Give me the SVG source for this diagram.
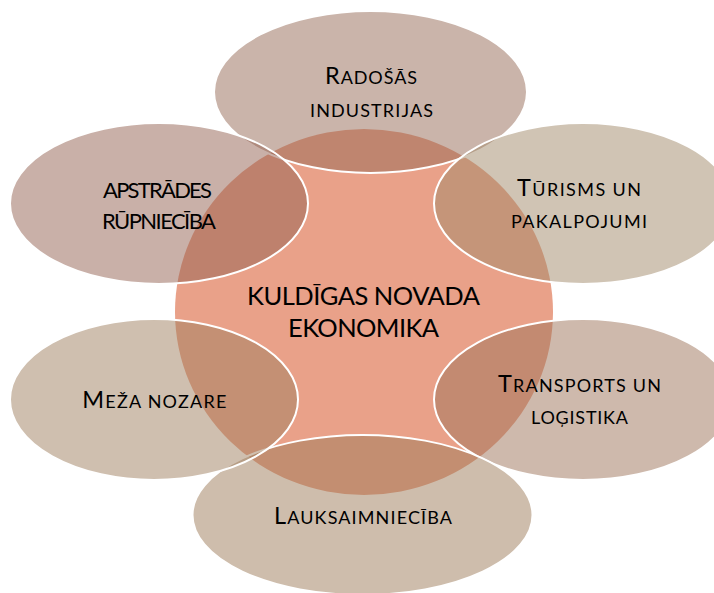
<svg xmlns="http://www.w3.org/2000/svg" width="714" height="593" viewBox="0 0 714 593">
<style>
.bg{fill:#ffffff}
.center{fill:#E9A189}
.petal{fill-opacity:0.5;stroke:#ffffff;stroke-width:2}
.lbl{font-family:"Lato","Open Sans","Liberation Sans",sans-serif;fill:#000000}
.big{font-size:23.5px}
.sm{font-size:18px}
.caps{font-size:22px}
.ctr{font-size:25.5px}
</style>
<rect class="bg" x="0" y="0" width="714" height="593"/>
<g id="center">
<ellipse class="center" cx="364" cy="312" rx="189" ry="183"/>
</g>
<g id="radosas">
<ellipse class="petal" style="fill:#956955" cx="370.5" cy="92" rx="156.5" ry="81"/>
</g>
<g id="turisms">
<ellipse class="petal" style="fill:#A18969" cx="583" cy="203.5" rx="149" ry="80.5"/>
</g>
<g id="transports">
<ellipse class="petal" style="fill:#9D7359" cx="583" cy="399.5" rx="149" ry="80.5"/>
</g>
<g id="lauksaimnieciba">
<ellipse class="petal" style="fill:#9D7B59" cx="362.5" cy="515" rx="170" ry="80"/>
</g>
<g id="meza">
<ellipse class="petal" style="fill:#9F7F5F" cx="154" cy="399.5" rx="144" ry="80.5"/>
</g>
<g id="apstrades">
<ellipse class="petal" style="fill:#936151" cx="159" cy="203.5" rx="149" ry="80.5"/>
</g>
<g id="connectors"></g>
<g id="labels">
<text class="lbl" x="325" y="84.3" textLength="92" lengthAdjust="spacing"><tspan class="big">R</tspan><tspan class="sm">ADOŠĀS</tspan></text>
<text class="lbl sm" x="310" y="116.7" textLength="123" lengthAdjust="spacing">INDUSTRIJAS</text>
<text class="lbl caps" x="103" y="197.7" textLength="109" lengthAdjust="spacing">APSTRĀDES</text>
<text class="lbl caps" x="102" y="228.5" textLength="114" lengthAdjust="spacing">RŪPNIECĪBA</text>
<text class="lbl" x="517" y="195.5" textLength="124" lengthAdjust="spacing"><tspan class="big">T</tspan><tspan class="sm">ŪRISMS UN</tspan></text>
<text class="lbl sm" x="511" y="228" textLength="136" lengthAdjust="spacing">PAKALPOJUMI</text>
<text class="lbl" x="82.3" y="408.3" textLength="144" lengthAdjust="spacing"><tspan class="big">M</tspan><tspan class="sm">EŽA NOZARE</tspan></text>
<text class="lbl" x="498" y="392" textLength="163" lengthAdjust="spacing"><tspan class="big">T</tspan><tspan class="sm">RANSPORTS UN</tspan></text>
<text class="lbl sm" x="531" y="424" textLength="97" lengthAdjust="spacing">LOĢISTIKA</text>
<text class="lbl" x="274" y="524" textLength="178" lengthAdjust="spacing"><tspan class="big">L</tspan><tspan class="sm">AUKSAIMNIECĪBA</tspan></text>
<text class="lbl ctr" x="247" y="305" textLength="233" lengthAdjust="spacing">KULDĪGAS NOVADA</text>
<text class="lbl ctr" x="288" y="337" textLength="151" lengthAdjust="spacing">EKONOMIKA</text>
</g>
</svg>
